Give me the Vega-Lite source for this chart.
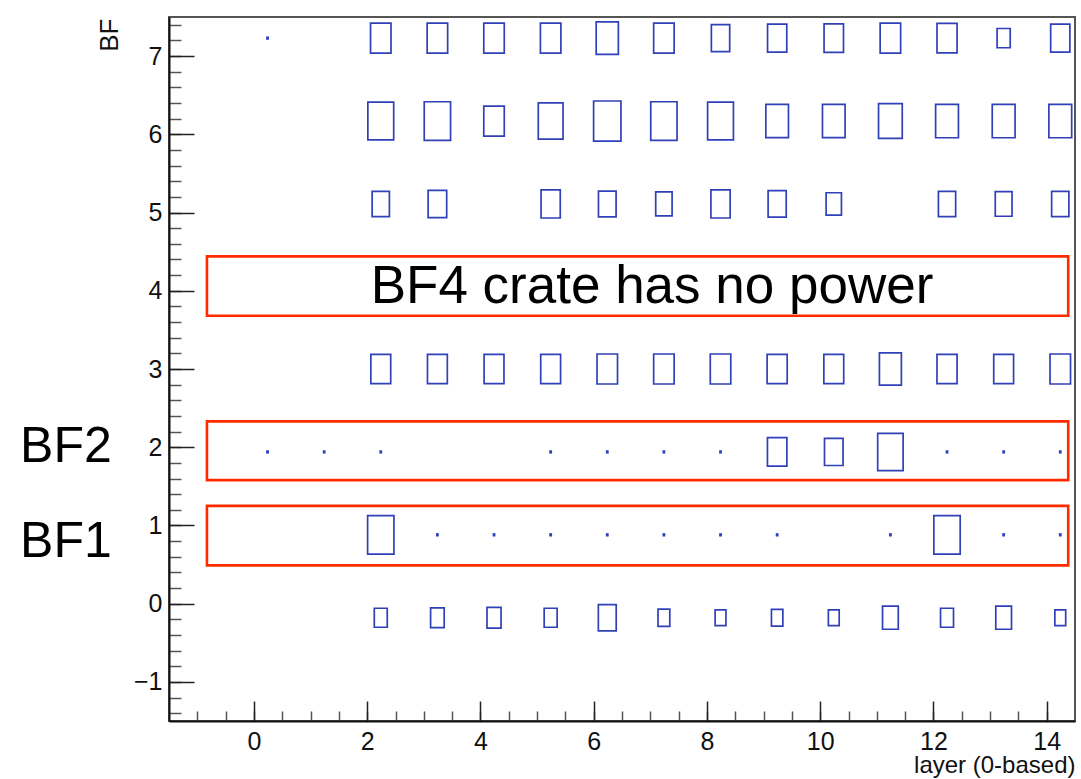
{
  "$schema": "https://vega.github.io/schema/vega-lite/v6.json",
  "width": 906,
  "height": 704,
  "autosize": {"type": "none"},
  "padding": {"left": 169, "top": 17, "right": 6, "bottom": 58},
  "background": "white",
  "config": {
    "font": "Liberation Sans",
    "view": {"stroke": "#555555", "strokeWidth": 2},
    "axis": {"grid": false, "labelFont": "Liberation Sans", "titleFont": "Liberation Sans", "titleFontWeight": "normal", "labelColor": "#111111", "titleColor": "#111111"}
  },
  "datasets": {
    "frames": [
      {"x1": -0.83, "x2": 14.38, "y1": 3.68, "y2": 4.44},
      {"x1": -0.83, "x2": 14.38, "y1": 1.58, "y2": 2.33},
      {"x1": -0.83, "x2": 14.38, "y1": 0.49, "y2": 1.25}
    ],
    "bins": [
      {"layer": 0, "bf": 7, "xc": 0.24, "yc": 7.23, "count": 0.3},
      {"layer": 2, "bf": 7, "xc": 2.24, "yc": 7.23, "count": 100},
      {"layer": 3, "bf": 7, "xc": 3.24, "yc": 7.23, "count": 100},
      {"layer": 4, "bf": 7, "xc": 4.24, "yc": 7.23, "count": 100},
      {"layer": 5, "bf": 7, "xc": 5.24, "yc": 7.23, "count": 100},
      {"layer": 6, "bf": 7, "xc": 6.24, "yc": 7.23, "count": 117},
      {"layer": 7, "bf": 7, "xc": 7.24, "yc": 7.23, "count": 100},
      {"layer": 8, "bf": 7, "xc": 8.24, "yc": 7.23, "count": 80},
      {"layer": 9, "bf": 7, "xc": 9.24, "yc": 7.23, "count": 88},
      {"layer": 10, "bf": 7, "xc": 10.24, "yc": 7.23, "count": 90},
      {"layer": 11, "bf": 7, "xc": 11.24, "yc": 7.23, "count": 100},
      {"layer": 12, "bf": 7, "xc": 12.24, "yc": 7.23, "count": 96},
      {"layer": 13, "bf": 7, "xc": 13.24, "yc": 7.23, "count": 41},
      {"layer": 14, "bf": 7, "xc": 14.24, "yc": 7.23, "count": 88},

      {"layer": 2, "bf": 6, "xc": 2.24, "yc": 6.17, "count": 159},
      {"layer": 3, "bf": 6, "xc": 3.24, "yc": 6.17, "count": 165},
      {"layer": 4, "bf": 6, "xc": 4.24, "yc": 6.17, "count": 100},
      {"layer": 5, "bf": 6, "xc": 5.24, "yc": 6.17, "count": 146},
      {"layer": 6, "bf": 6, "xc": 6.24, "yc": 6.17, "count": 178},
      {"layer": 7, "bf": 6, "xc": 7.24, "yc": 6.17, "count": 165},
      {"layer": 8, "bf": 6, "xc": 8.24, "yc": 6.17, "count": 159},
      {"layer": 9, "bf": 6, "xc": 9.24, "yc": 6.17, "count": 122},
      {"layer": 10, "bf": 6, "xc": 10.24, "yc": 6.17, "count": 122},
      {"layer": 11, "bf": 6, "xc": 11.24, "yc": 6.17, "count": 134},
      {"layer": 12, "bf": 6, "xc": 12.24, "yc": 6.17, "count": 124},
      {"layer": 13, "bf": 6, "xc": 13.24, "yc": 6.17, "count": 124},
      {"layer": 14, "bf": 6, "xc": 14.24, "yc": 6.17, "count": 124},

      {"layer": 2, "bf": 5, "xc": 2.24, "yc": 5.11, "count": 71},
      {"layer": 3, "bf": 5, "xc": 3.24, "yc": 5.11, "count": 82},
      {"layer": 5, "bf": 5, "xc": 5.24, "yc": 5.11, "count": 88},
      {"layer": 6, "bf": 5, "xc": 6.24, "yc": 5.11, "count": 74},
      {"layer": 7, "bf": 5, "xc": 7.24, "yc": 5.11, "count": 64},
      {"layer": 8, "bf": 5, "xc": 8.24, "yc": 5.11, "count": 88},
      {"layer": 9, "bf": 5, "xc": 9.24, "yc": 5.11, "count": 78},
      {"layer": 10, "bf": 5, "xc": 10.24, "yc": 5.11, "count": 56},
      {"layer": 12, "bf": 5, "xc": 12.24, "yc": 5.11, "count": 71},
      {"layer": 13, "bf": 5, "xc": 13.24, "yc": 5.11, "count": 67},
      {"layer": 14, "bf": 5, "xc": 14.24, "yc": 5.11, "count": 71},

      {"layer": 2, "bf": 3, "xc": 2.24, "yc": 3.0, "count": 94},
      {"layer": 3, "bf": 3, "xc": 3.24, "yc": 3.0, "count": 94},
      {"layer": 4, "bf": 3, "xc": 4.24, "yc": 3.0, "count": 94},
      {"layer": 5, "bf": 3, "xc": 5.24, "yc": 3.0, "count": 94},
      {"layer": 6, "bf": 3, "xc": 6.24, "yc": 3.0, "count": 100},
      {"layer": 7, "bf": 3, "xc": 7.24, "yc": 3.0, "count": 100},
      {"layer": 8, "bf": 3, "xc": 8.24, "yc": 3.0, "count": 100},
      {"layer": 9, "bf": 3, "xc": 9.24, "yc": 3.0, "count": 96},
      {"layer": 10, "bf": 3, "xc": 10.24, "yc": 3.0, "count": 94},
      {"layer": 11, "bf": 3, "xc": 11.24, "yc": 3.0, "count": 115},
      {"layer": 12, "bf": 3, "xc": 12.24, "yc": 3.0, "count": 96},
      {"layer": 13, "bf": 3, "xc": 13.24, "yc": 3.0, "count": 94},
      {"layer": 14, "bf": 3, "xc": 14.24, "yc": 3.0, "count": 100},

      {"layer": 0, "bf": 2, "xc": 0.24, "yc": 1.94, "count": 0.3},
      {"layer": 1, "bf": 2, "xc": 1.24, "yc": 1.94, "count": 0.3},
      {"layer": 2, "bf": 2, "xc": 2.24, "yc": 1.94, "count": 0.3},
      {"layer": 5, "bf": 2, "xc": 5.24, "yc": 1.94, "count": 0.3},
      {"layer": 6, "bf": 2, "xc": 6.24, "yc": 1.94, "count": 0.3},
      {"layer": 7, "bf": 2, "xc": 7.24, "yc": 1.94, "count": 0.3},
      {"layer": 8, "bf": 2, "xc": 8.24, "yc": 1.94, "count": 0.3},
      {"layer": 9, "bf": 2, "xc": 9.24, "yc": 1.94, "count": 90},
      {"layer": 10, "bf": 2, "xc": 10.24, "yc": 1.94, "count": 82},
      {"layer": 11, "bf": 2, "xc": 11.24, "yc": 1.94, "count": 154},
      {"layer": 12, "bf": 2, "xc": 12.24, "yc": 1.94, "count": 0.3},
      {"layer": 13, "bf": 2, "xc": 13.24, "yc": 1.94, "count": 0.3},
      {"layer": 14, "bf": 2, "xc": 14.24, "yc": 1.94, "count": 0.3},

      {"layer": 2, "bf": 1, "xc": 2.24, "yc": 0.88, "count": 165},
      {"layer": 3, "bf": 1, "xc": 3.24, "yc": 0.88, "count": 0.3},
      {"layer": 4, "bf": 1, "xc": 4.24, "yc": 0.88, "count": 0.3},
      {"layer": 5, "bf": 1, "xc": 5.24, "yc": 0.88, "count": 0.3},
      {"layer": 6, "bf": 1, "xc": 6.24, "yc": 0.88, "count": 0.3},
      {"layer": 7, "bf": 1, "xc": 7.24, "yc": 0.88, "count": 0.3},
      {"layer": 8, "bf": 1, "xc": 8.24, "yc": 0.88, "count": 0.3},
      {"layer": 9, "bf": 1, "xc": 9.24, "yc": 0.88, "count": 0.3},
      {"layer": 11, "bf": 1, "xc": 11.24, "yc": 0.88, "count": 0.3},
      {"layer": 12, "bf": 1, "xc": 12.24, "yc": 0.88, "count": 165},
      {"layer": 13, "bf": 1, "xc": 13.24, "yc": 0.88, "count": 0.3},
      {"layer": 14, "bf": 1, "xc": 14.24, "yc": 0.88, "count": 0.3},

      {"layer": 2, "bf": 0, "xc": 2.24, "yc": -0.18, "count": 40},
      {"layer": 3, "bf": 0, "xc": 3.24, "yc": -0.18, "count": 44},
      {"layer": 4, "bf": 0, "xc": 4.24, "yc": -0.18, "count": 47},
      {"layer": 5, "bf": 0, "xc": 5.24, "yc": -0.18, "count": 40},
      {"layer": 6, "bf": 0, "xc": 6.24, "yc": -0.18, "count": 76},
      {"layer": 7, "bf": 0, "xc": 7.24, "yc": -0.18, "count": 33},
      {"layer": 8, "bf": 0, "xc": 8.24, "yc": -0.18, "count": 28},
      {"layer": 9, "bf": 0, "xc": 9.24, "yc": -0.18, "count": 31},
      {"layer": 10, "bf": 0, "xc": 10.24, "yc": -0.18, "count": 28},
      {"layer": 11, "bf": 0, "xc": 11.24, "yc": -0.18, "count": 59},
      {"layer": 12, "bf": 0, "xc": 12.24, "yc": -0.18, "count": 40},
      {"layer": 13, "bf": 0, "xc": 13.24, "yc": -0.18, "count": 59},
      {"layer": 14, "bf": 0, "xc": 14.24, "yc": -0.18, "count": 28}
    ],
    "notes": [
      {"label": "BF4 crate has no power", "xt": 7.03, "yt": 3.85, "kind": "inside"},
      {"label": "BF2", "xt": -4.13, "yt": 1.81, "kind": "outside"},
      {"label": "BF1", "xt": -4.13, "yt": 0.6, "kind": "outside"}
    ]
  },
  "layer": [
    {
      "data": {"name": "frames"},
      "mark": {"type": "rect", "fill": "white", "fillOpacity": 0, "stroke": "#ff2a00", "strokeWidth": 2.6},
      "encoding": {
        "x": {"field": "x1", "type": "quantitative",
          "scale": {"domain": [-1.5, 14.5], "nice": false, "zero": false},
          "axis": {"orient": "bottom", "values": [-1, -0.5, 0, 0.5, 1, 1.5, 2, 2.5, 3, 3.5, 4, 4.5, 5, 5.5, 6, 6.5, 7, 7.5, 8, 8.5, 9, 9.5, 10, 10.5, 11, 11.5, 12, 12.5, 13, 13.5, 14],
            "tickSize": -10, "tickWidth": 1.5, "tickColor": "#555555", "labels": false, "domain": false, "title": null}},
        "x2": {"field": "x2"},
        "y": {"field": "y1", "type": "quantitative",
          "scale": {"domain": [-1.5, 7.5], "nice": false, "zero": false},
          "axis": {"orient": "left", "values": [-1.4, -1.2, -1, -0.8, -0.6, -0.4, -0.2, 0, 0.2, 0.4, 0.6, 0.8, 1, 1.2, 1.4, 1.6, 1.8, 2, 2.2, 2.4, 2.6, 2.8, 3, 3.2, 3.4, 3.6, 3.8, 4, 4.2, 4.4, 4.6, 4.8, 5, 5.2, 5.4, 5.6, 5.8, 6, 6.2, 6.4, 6.6, 6.8, 7, 7.2, 7.4],
            "tickSize": -12, "tickWidth": 1.5, "tickColor": "#555555", "labels": false, "domain": false, "title": null}},
        "y2": {"field": "y2"}
      }
    },
    {
      "data": {"name": "bins"},
      "mark": {"type": "point", "shape": "M-0.683,-1L0.683,-1L0.683,1L-0.683,1Z", "filled": false, "stroke": "#3040b8", "strokeWidth": 1.7, "opacity": 1},
      "encoding": {
        "x": {"field": "xc", "type": "quantitative",
          "scale": {"domain": [-1.5, 14.5], "nice": false, "zero": false},
          "axis": {"orient": "bottom", "values": [0, 2, 4, 6, 8, 10, 12, 14], "tickSize": -20, "tickWidth": 1.5, "tickColor": "#222222",
            "domainColor": "#111111", "domainWidth": 2, "labelFontSize": 25, "labelPadding": 28,
            "title": "layer (0-based)", "titleFontSize": 24, "titleAlign": "right", "titleBaseline": "alphabetic", "titleX": 906, "titleY": 51, "titleAnchor": "end"}},
        "y": {"field": "yc", "type": "quantitative",
          "scale": {"domain": [-1.5, 7.5], "nice": false, "zero": false},
          "axis": {"orient": "left", "values": [-1, 0, 1, 2, 3, 4, 5, 6, 7], "tickSize": -25, "tickWidth": 1.5, "tickColor": "#222222",
            "domainColor": "#111111", "domainWidth": 2, "labelFontSize": 25, "labelPadding": 32,
            "title": "BF", "titleFontSize": 26, "titleAngle": -90, "titleAlign": "right", "titleBaseline": "alphabetic", "titleX": -52, "titleY": 1}},
        "size": {"field": "count", "type": "quantitative", "scale": {"type": "linear", "domain": [0, 100], "range": [0, 900]}, "legend": null}
      }
    },
    {
      "data": {"name": "notes"},
      "transform": [{"filter": "datum.kind === 'inside'"}],
      "mark": {"type": "text", "fontSize": 53, "align": "center", "baseline": "alphabetic", "color": "#000000", "font": "Liberation Sans"},
      "encoding": {
        "x": {"field": "xt", "type": "quantitative", "scale": {"domain": [-1.5, 14.5], "nice": false, "zero": false}, "axis": null},
        "y": {"field": "yt", "type": "quantitative", "scale": {"domain": [-1.5, 7.5], "nice": false, "zero": false}, "axis": null},
        "text": {"field": "label"}
      }
    },
    {
      "data": {"name": "notes"},
      "transform": [{"filter": "datum.kind === 'outside'"}],
      "mark": {"type": "text", "fontSize": 50, "align": "left", "baseline": "alphabetic", "color": "#000000", "font": "Liberation Sans"},
      "encoding": {
        "x": {"field": "xt", "type": "quantitative", "scale": {"domain": [-1.5, 14.5], "nice": false, "zero": false}, "axis": null},
        "y": {"field": "yt", "type": "quantitative", "scale": {"domain": [-1.5, 7.5], "nice": false, "zero": false}, "axis": null},
        "text": {"field": "label"}
      }
    }
  ],
  "resolve": {"axis": {"x": "independent", "y": "independent"}}
}
